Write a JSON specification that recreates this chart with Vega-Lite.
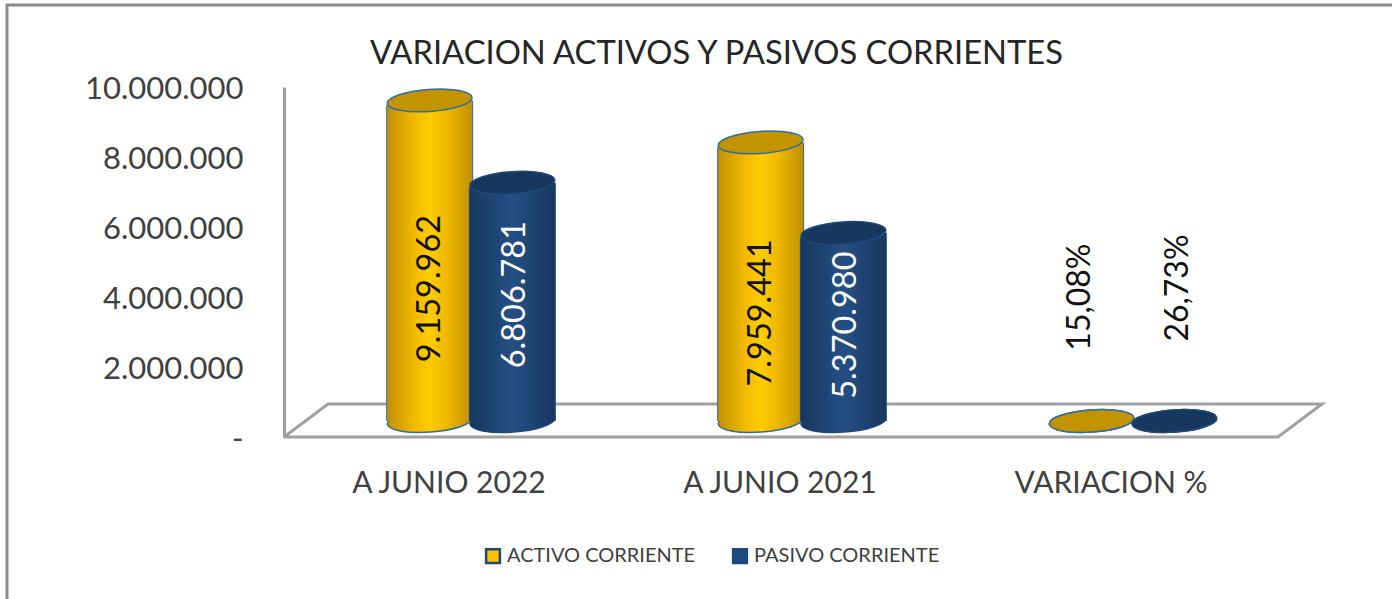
{"$schema":"https://vega.github.io/schema/vega-lite/v6.json","width":1390,"height":596,"autosize":"none","padding":{"left":7,"top":5,"right":-5,"bottom":-2},"background":"white","view":{"stroke":"#8a8a8a","strokeWidth":3,"fill":"white"},"title":{"text":"VARIACION ACTIVOS Y PASIVOS CORRIENTES","font":"Lato","fontSize":32.7,"fontWeight":"normal","color":"#262626","anchor":"start","frame":"group","offset":0,"dx":363,"dy":66},"datasets":{"barras":[{"categoria":"A JUNIO 2022","serie":"ACTIVO CORRIENTE","valor":9159962,"etiqueta":"9.159.962","nivel_etiqueta":3786000},{"categoria":"A JUNIO 2022","serie":"PASIVO CORRIENTE","valor":6806781,"etiqueta":"6.806.781","nivel_etiqueta":3610000},{"categoria":"A JUNIO 2021","serie":"ACTIVO CORRIENTE","valor":7959441,"etiqueta":"7.959.441","nivel_etiqueta":3090000},{"categoria":"A JUNIO 2021","serie":"PASIVO CORRIENTE","valor":5370980,"etiqueta":"5.370.980","nivel_etiqueta":2740000},{"categoria":"VARIACION %","serie":"ACTIVO CORRIENTE","valor":15.08,"etiqueta":"15,08%","nivel_etiqueta":3540000},{"categoria":"VARIACION %","serie":"PASIVO CORRIENTE","valor":26.73,"etiqueta":"26,73%","nivel_etiqueta":3800000}],"piso":[{"orden":0,"u":0,"nivel":0},{"orden":1,"u":1,"nivel":0},{"orden":2,"u":1.0443,"nivel":943000},{"orden":3,"u":0.0443,"nivel":943000},{"orden":4,"u":0,"nivel":0}]},"layer":[{"data":{"name":"piso"},"mark":{"type":"line","stroke":"#a0a0a0","strokeWidth":3,"strokeJoin":"miter"},"encoding":{"x":{"field":"u","type":"quantitative","scale":{"domain":[0,1],"range":[277,1271],"nice":false,"zero":false},"axis":null},"y":{"field":"nivel","type":"quantitative","scale":{"domain":[0,10000000],"range":[432,82],"nice":false},"axis":{"title":null,"grid":false,"ticks":false,"values":[0,2000000,4000000,6000000,8000000,10000000],"offset":-277,"labelPadding":41,"labelOffset":2,"labelFont":"Lato","labelFontSize":31,"labelColor":"#404040","domainColor":"#a0a0a0","domainWidth":3,"labelExpr":"datum.value == 0 ? '-' : replace(format(datum.value, ','), /,/g, '.')"}},"order":{"field":"orden","type":"quantitative"}}},{"data":{"name":"barras"},"encoding":{"x":{"field":"categoria","type":"nominal","sort":null,"scale":{"range":[298.5,1291.5],"paddingInner":0,"paddingOuter":0},"axis":{"title":null,"orient":"bottom","labelAngle":0,"ticks":false,"domain":false,"labelOffset":-22,"offset":-133,"labelPadding":0,"labelBaseline":"top","labelLimit":400,"labelFont":"Lato","labelFontSize":30,"labelColor":"#404040"}},"xOffset":{"field":"serie","type":"nominal","sort":null,"scale":{"paddingInner":0,"paddingOuter":1.122}},"y":{"field":"valor","type":"quantitative","stack":null,"scale":{"domain":[0,10000000],"range":[416,66],"nice":false},"axis":null}},"layer":[{"mark":{"type":"point","filled":true,"opacity":1,"size":7225,"shape":"M-0.9976,0.0698A1,0.26,-4,1,1,0.9976,-0.0698A1,0.26,-4,1,1,-0.9976,0.0698Z"},"encoding":{"y":{"datum":0},"color":{"field":"serie","type":"nominal","sort":null,"scale":{"range":["#ffc000","#1f497d"]},"legend":{"title":null,"orient":"none","legendX":476,"legendY":541,"direction":"horizontal","symbolType":"square","symbolSize":190,"symbolStrokeColor":"#1f497d","symbolStrokeWidth":2.5,"labelFont":"Lato","labelFontSize":20,"labelLimit":400,"labelColor":"#404040","labelOffset":4,"columnPadding":32,"symbolOpacity":1}}}},{"transform":[{"filter":"datum.serie == 'ACTIVO CORRIENTE'"}],"layer":[{"mark":{"type":"point","filled":true,"opacity":1,"size":7225,"stroke":"#2e6ca4","strokeWidth":1.5,"shape":"M-0.9976,0.0698A1,0.26,-4,1,1,0.9976,-0.0698A1,0.26,-4,1,1,-0.9976,0.0698Z","fill":{"gradient":"linear","x1":0,"x2":1,"y1":0,"y2":0,"stops":[{"offset":0,"color":"#c09000"},{"offset":0.3,"color":"#f0b800"},{"offset":0.5,"color":"#ffcc00"},{"offset":0.7,"color":"#f0b800"},{"offset":1,"color":"#c09000"}]}},"encoding":{"y":{"datum":0}}},{"mark":{"type":"bar","size":87,"fill":"#2e6ca4","cornerRadiusTopLeft":7}},{"mark":{"type":"bar","size":85,"cornerRadiusTopLeft":7,"fill":{"gradient":"linear","x1":0,"x2":1,"y1":0,"y2":0,"stops":[{"offset":0,"color":"#c09000"},{"offset":0.3,"color":"#f0b800"},{"offset":0.5,"color":"#ffcc00"},{"offset":0.7,"color":"#f0b800"},{"offset":1,"color":"#c09000"}]}}},{"mark":{"type":"point","filled":true,"opacity":1,"size":7225,"fill":"#c29400","stroke":"#2e6ca4","strokeWidth":1.5,"shape":"M-0.9976,0.0698A1,0.26,-4,1,1,0.9976,-0.0698A1,0.26,-4,1,1,-0.9976,0.0698Z"}}]},{"transform":[{"filter":"datum.serie == 'PASIVO CORRIENTE'"}],"layer":[{"mark":{"type":"point","filled":true,"opacity":1,"size":7225,"stroke":"#1f497d","strokeWidth":1.5,"shape":"M-0.9976,0.0698A1,0.26,-4,1,1,0.9976,-0.0698A1,0.26,-4,1,1,-0.9976,0.0698Z","fill":{"gradient":"linear","x1":0,"x2":1,"y1":0,"y2":0,"stops":[{"offset":0,"color":"#17375e"},{"offset":0.5,"color":"#254f85"},{"offset":1,"color":"#17375e"}]}},"encoding":{"y":{"datum":0}}},{"mark":{"type":"bar","size":87,"fill":"#24507f","cornerRadiusTopLeft":7}},{"mark":{"type":"bar","size":85,"cornerRadiusTopLeft":7,"fill":{"gradient":"linear","x1":0,"x2":1,"y1":0,"y2":0,"stops":[{"offset":0,"color":"#17375e"},{"offset":0.5,"color":"#254f85"},{"offset":1,"color":"#17375e"}]}}},{"mark":{"type":"point","filled":true,"opacity":1,"size":7225,"fill":"#17375e","stroke":"#1f497d","strokeWidth":1.5,"shape":"M-0.9976,0.0698A1,0.26,-4,1,1,0.9976,-0.0698A1,0.26,-4,1,1,-0.9976,0.0698Z"}}]},{"transform":[{"filter":"datum.serie == 'ACTIVO CORRIENTE' && datum.categoria != 'VARIACION %'"}],"mark":{"type":"text","angle":270,"font":"Lato","fontSize":32.5,"fill":"#111111","align":"center","baseline":"middle","dy":0},"encoding":{"y":{"field":"nivel_etiqueta","type":"quantitative"},"text":{"field":"etiqueta","type":"nominal"}}},{"transform":[{"filter":"datum.serie == 'PASIVO CORRIENTE' && datum.categoria != 'VARIACION %'"}],"mark":{"type":"text","angle":270,"font":"Lato","fontSize":32.5,"fill":"#ffffff","align":"center","baseline":"middle","dy":3},"encoding":{"y":{"field":"nivel_etiqueta","type":"quantitative"},"text":{"field":"etiqueta","type":"nominal"}}},{"transform":[{"filter":"datum.serie == 'ACTIVO CORRIENTE' && datum.categoria == 'VARIACION %'"}],"mark":{"type":"text","angle":270,"font":"Lato","fontSize":32,"fill":"#111111","align":"center","baseline":"middle","dy":-12},"encoding":{"y":{"field":"nivel_etiqueta","type":"quantitative"},"text":{"field":"etiqueta","type":"nominal"}}},{"transform":[{"filter":"datum.serie == 'PASIVO CORRIENTE' && datum.categoria == 'VARIACION %'"}],"mark":{"type":"text","angle":270,"font":"Lato","fontSize":32,"fill":"#111111","align":"center","baseline":"middle","dy":4},"encoding":{"y":{"field":"nivel_etiqueta","type":"quantitative"},"text":{"field":"etiqueta","type":"nominal"}}}]}],"resolve":{"scale":{"x":"independent","y":"independent"}}}
